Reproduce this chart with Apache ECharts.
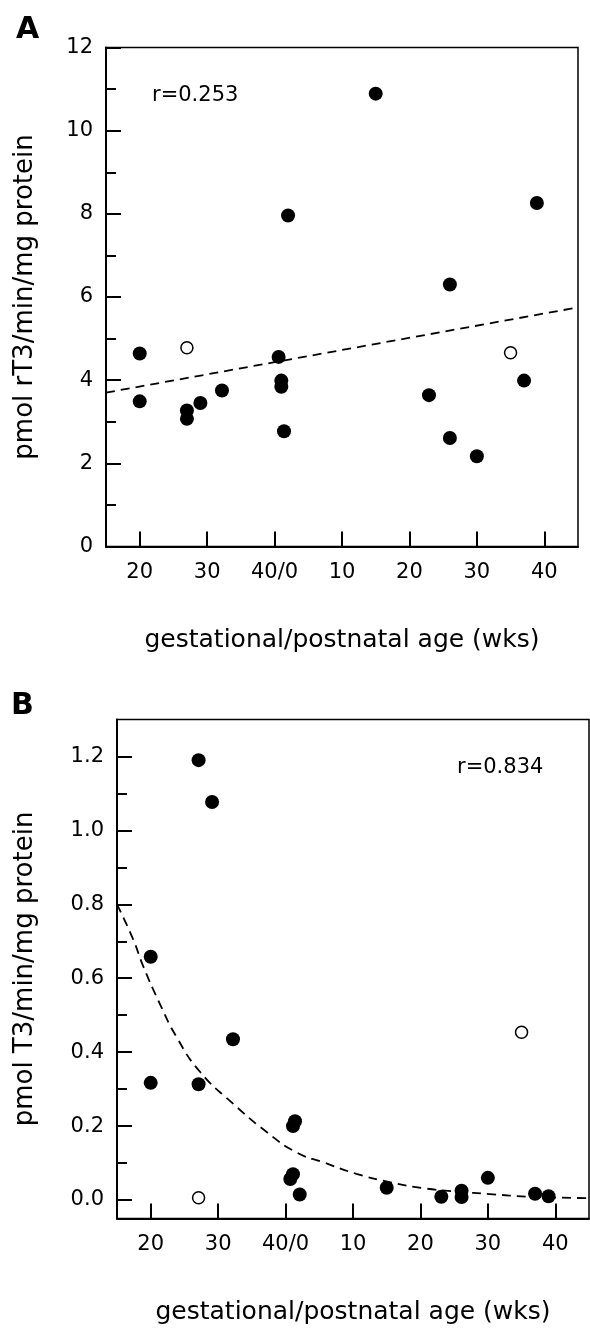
<!DOCTYPE html>
<html>
<head>
<meta charset="utf-8">
<script src="https://cdn.jsdelivr.net/npm/echarts@6/dist/echarts.min.js"></script>
<style>
  html, body { margin: 0; padding: 0; background: #fff; }
  #chart { width: 590px; height: 1328px; }
</style>
</head>
<body>
<div id="chart"></div>
<script>
// x scale: gestational weeks up to 40, then postnatal weeks counted on from 40
const xTicks = [20, 30, 40, 50, 60, 70, 80];
const xTickLabels = ["20", "30", "40/0", "10", "20", "30", "40"];

// panel A: rT3 (pmol/min/mg protein)
const rt3Filled = [
    [55, 10.89], [42.0, 7.96], [78.9, 8.26], [66.0, 6.30], [20, 4.64], [40.6, 4.56],
    [20, 3.49], [27, 3.27], [27, 3.07], [29, 3.45], [32.2, 3.75], [41, 3.99],
    [41, 3.84], [41.4, 2.77], [62.9, 3.64], [66, 2.61], [70, 2.17], [77, 3.99]
];
const rt3Open = [[27, 4.78], [75, 4.66]];
const rt3Fit = [[15, 3.70], [85, 5.75]];
const rt3Label = "r=0.253";

// panel B: T3 (pmol/min/mg protein)
const t3Filled = [
    [27.1, 1.19], [29.1, 1.077], [20, 0.658], [32.2, 0.435], [20, 0.317], [27.1, 0.313],
    [41.4, 0.213], [41.1, 0.20], [41.1, 0.07], [40.7, 0.057], [42.1, 0.015], [55.0, 0.033],
    [63.1, 0.009], [66.1, 0.025], [66.1, 0.008], [70.0, 0.06], [77.0, 0.017], [79.0, 0.01]
];
const t3Open = [[75.0, 0.454], [27.1, 0.006]];
// dashed curve
const t3Fit = [
    [15, 0.80], [17.4, 0.705], [18.9, 0.632], [21.3, 0.533], [23.8, 0.442], [27.3, 0.347],
    [32.2, 0.261], [37.2, 0.184], [41.6, 0.129], [45.6, 0.102], [50.5, 0.071], [55.5, 0.048],
    [60.4, 0.032], [65.4, 0.023], [70.3, 0.016], [76.2, 0.009], [85, 0.005]
];
const t3Label = "r=0.834";
const t3MajorTicks = [0, 0.2, 0.4, 0.6, 0.8, 1.0, 1.2];
const t3MinorTicks = [0.1, 0.3, 0.5, 0.7, 0.9, 1.1];

const FONT = "DejaVu Sans";
const INK = "#000";

/**
 * x axis shared by both panels
 */
function makeXAxis(gridIndex) {
    return {
        type: "value",
        gridIndex: gridIndex,
        min: 15,
        max: 85,
        name: "gestational/postnatal age (wks)",
        nameLocation: "middle",
        nameGap: 81,
        nameTextStyle: { fontFamily: FONT, fontSize: 25, color: INK },
        axisLine: { onZero: false, lineStyle: { color: INK, width: 2 } },
        axisTick: { inside: true, length: 15, customValues: xTicks, lineStyle: { color: INK, width: 2 } },
        axisLabel: {
            customValues: xTicks,
            margin: 16,
            fontFamily: FONT,
            fontSize: 21,
            color: INK,
            formatter: (v) => xTickLabels[xTicks.indexOf(v)]
        },
        splitLine: { show: false }
    };
}

function scatterSeries(data, index, open) {
    return {
        type: "scatter",
        xAxisIndex: index,
        yAxisIndex: index === 0 ? 0 : 1,
        data: data,
        symbolSize: open ? 12 : 14,
        z: 3,
        itemStyle: open
            ? { color: "#fff", borderColor: INK, borderWidth: 1.5, opacity: 1 }
            : { color: INK, opacity: 1 }
    };
}

function fitSeries(data, index) {
    return {
        type: "line",
        xAxisIndex: index,
        yAxisIndex: index === 0 ? 0 : 1,
        data: data,
        smooth: index === 0 ? false : 0.5,
        showSymbol: false,
        z: 2,
        lineStyle: { color: INK, width: 1.8, type: [9, 6] }
    };
}

const chart = echarts.init(document.getElementById("chart"));

chart.setOption({
    animation: false,
    backgroundColor: "#fff",
    title: [
        { text: "A", left: 11, top: 10, textStyle: { fontFamily: FONT, fontSize: 30, fontWeight: "bold", color: INK } },
        { text: rt3Label, left: 147, top: 80, textStyle: { fontFamily: FONT, fontSize: 21, fontWeight: "normal", color: INK } },
        { text: "B", left: 6, top: 686, textStyle: { fontFamily: FONT, fontSize: 30, fontWeight: "bold", color: INK } },
        { text: t3Label, left: 452, top: 752, textStyle: { fontFamily: FONT, fontSize: 21, fontWeight: "normal", color: INK } }
    ],
    grid: [
        { left: 106, top: 47.5, width: 472, height: 499, show: true, borderColor: INK, borderWidth: 1.5 },
        { left: 117, top: 719.5, width: 472, height: 499, show: true, borderColor: INK, borderWidth: 1.5 }
    ],
    xAxis: [makeXAxis(0), makeXAxis(1)],
    yAxis: [
        {
            type: "value",
            gridIndex: 0,
            min: 0,
            max: 12,
            interval: 2,
            name: "pmol rT3/min/mg protein",
            nameLocation: "middle",
            nameGap: 68,
            nameTextStyle: { fontFamily: FONT, fontSize: 26, color: INK },
            axisLine: { onZero: false, lineStyle: { color: INK, width: 2 } },
            axisTick: { inside: true, length: 15, lineStyle: { color: INK, width: 2 } },
            minorTick: { show: true, splitNumber: 2, length: 10, lineStyle: { color: INK, width: 2 } },
            axisLabel: { margin: 13, fontFamily: FONT, fontSize: 21, color: INK },
            splitLine: { show: false }
        },
        {
            type: "value",
            gridIndex: 1,
            min: -0.05,
            max: 1.3,
            name: "pmol T3/min/mg protein",
            nameLocation: "middle",
            nameGap: 79,
            nameTextStyle: { fontFamily: FONT, fontSize: 26, color: INK },
            axisLine: { onZero: false, lineStyle: { color: INK, width: 2 } },
            axisTick: { inside: true, length: 15, customValues: t3MajorTicks, lineStyle: { color: INK, width: 2 } },
            axisLabel: {
                customValues: t3MajorTicks,
                margin: 13,
                fontFamily: FONT,
                fontSize: 21,
                color: INK,
                formatter: (v) => v.toFixed(1)
            },
            splitLine: { show: false }
        },
        {
            // minor ticks for panel B only
            type: "value",
            gridIndex: 1,
            position: "left",
            min: -0.05,
            max: 1.3,
            axisLine: { show: false },
            axisTick: { inside: true, length: 10, customValues: t3MinorTicks, lineStyle: { color: INK, width: 2 } },
            axisLabel: { show: false },
            splitLine: { show: false }
        }
    ],
    series: [
        fitSeries(rt3Fit, 0),
        scatterSeries(rt3Filled, 0, false),
        scatterSeries(rt3Open, 0, true),
        fitSeries(t3Fit, 1),
        scatterSeries(t3Filled, 1, false),
        scatterSeries(t3Open, 1, true)
    ]
});
</script>
</body>
</html>
